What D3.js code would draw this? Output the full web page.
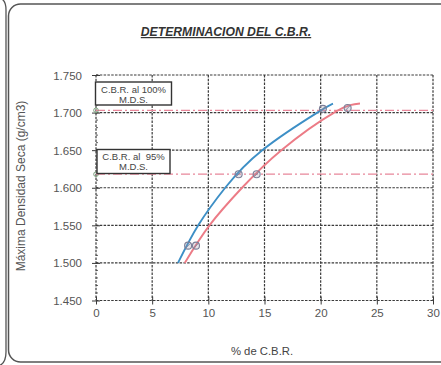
<!DOCTYPE html>
<html>
<head>
<meta charset="utf-8">
<script src="https://cdn.jsdelivr.net/npm/d3@7"></script>
<style>
  html, body { margin: 0; padding: 0; background: #fff; }
  svg { display: block; }
  text { font-family: Arial, "Liberation Sans", sans-serif; }
</style>
</head>
<body>
<svg id="chart" width="441" height="365"></svg>
<script>
// CBR curves: % CBR vs dry density (g/cm3)
const xTicks = [0, 5, 10, 15, 20, 25, 30];
const yTicks = [1.45, 1.50, 1.55, 1.60, 1.65, 1.70, 1.75];

// Fitted curve traces
const curveA = [[7.3, 1.500], [9.1, 1.550], [11.5, 1.600], [14.8, 1.650], [19.7, 1.700], [21.1, 1.712]];
const curveB = [[7.9, 1.500], [10.1, 1.550], [13.0, 1.600], [16.5, 1.650], [21.2, 1.700], [23.5, 1.712]];

// Read points on each curve
const pointsA = [[8.2, 1.523], [12.7, 1.618], [20.2, 1.705]];
const pointsB = [[8.9, 1.523], [14.3, 1.618], [22.4, 1.706]];

// Maximum dry density and 95% of it
const mds100 = 1.703;
const mds95 = 1.618;

const svg = d3.select("#chart");
const font = "Arial, 'Liberation Sans', sans-serif";

// Panel frames
svg.append("path")
  .attr("d", "M0,-2 Q6,0 6,10 L6,352 Q6,364 -2,366")
  .attr("fill", "none").attr("stroke", "#555").attr("stroke-width", 1.3);
svg.append("rect")
  .attr("x", 8.5).attr("y", 4).attr("width", 460).attr("height", 358)
  .attr("rx", 12).attr("ry", 12)
  .attr("fill", "none").attr("stroke", "#555").attr("stroke-width", 1.5);

const x = d3.scaleLinear().domain([0, 30]).range([96, 433]);
const y = d3.scaleLinear().domain([1.45, 1.75]).range([300.5, 75]);

const gridColor = "#3a3a3a";

// Grid lines
svg.append("g").selectAll("line").data(xTicks).join("line")
  .attr("x1", d => x(d)).attr("x2", d => x(d))
  .attr("y1", y(1.75)).attr("y2", y(1.45))
  .attr("stroke", gridColor).attr("stroke-width", 1.2)
  .attr("stroke-dasharray", "2.5,1.3");
svg.append("g").selectAll("line").data(yTicks).join("line")
  .attr("x1", x(0)).attr("x2", x(30))
  .attr("y1", d => y(d)).attr("y2", d => y(d))
  .attr("stroke", gridColor).attr("stroke-width", 1.2)
  .attr("stroke-dasharray", "2.5,1.3");

// Axes with crossing tick marks
const yAxis = d3.axisLeft(y).tickValues(yTicks).tickSizeInner(4).tickSizeOuter(0)
  .tickFormat(d3.format(".3f"));
const gy = svg.append("g").attr("transform", `translate(${x(0)},0)`).call(yAxis);
gy.select(".domain").remove();
gy.selectAll(".tick line").attr("x2", -4).attr("x1", 4).attr("stroke", gridColor);
gy.selectAll(".tick text").attr("x", -14).attr("dy", "0.35em")
  .attr("font-size", 11.5).attr("fill", "#555").attr("font-family", font);

// Minor ticks on the density axis
const minor = d3.range(1.45, 1.7501, 0.01);
svg.append("g").selectAll("line").data(minor).join("line")
  .attr("x1", x(0)).attr("x2", x(0) + 2)
  .attr("y1", d => y(d)).attr("y2", d => y(d))
  .attr("stroke", gridColor).attr("stroke-width", 0.8);

const xAxis = d3.axisBottom(x).tickValues(xTicks).tickSizeInner(4).tickSizeOuter(0);
const gx = svg.append("g").attr("transform", `translate(0,${y(1.45)})`).call(xAxis);
gx.select(".domain").remove();
gx.selectAll(".tick line").attr("y1", -4).attr("y2", 4).attr("stroke", gridColor);
gx.selectAll(".tick text").attr("y", 8).attr("dy", "0.71em")
  .attr("font-size", 11.5).attr("fill", "#555").attr("font-family", font);

// Reference lines at MDS and 95% MDS
const refColor = "#e8879a";
[mds100, mds95].forEach(v => {
  svg.append("line")
    .attr("x1", x(0)).attr("x2", x(30))
    .attr("y1", y(v)).attr("y2", y(v))
    .attr("stroke", refColor).attr("stroke-width", 1.2)
    .attr("stroke-dasharray", "9,3,2,3");
  svg.append("circle")
    .attr("cx", x(0)).attr("cy", y(v)).attr("r", 2.3)
    .attr("fill", "none").attr("stroke", "#7aa07a").attr("stroke-width", 1);
});

// Curves
const line = d3.line().x(d => x(d[0])).y(d => y(d[1])).curve(d3.curveNatural);
svg.append("path").datum(curveA).attr("d", line)
  .attr("fill", "none").attr("stroke", "#3d8fc6").attr("stroke-width", 1.9);
svg.append("path").datum(curveB).attr("d", line)
  .attr("fill", "none").attr("stroke", "#ec7b86").attr("stroke-width", 1.9);

// Point markers
function markers(pts) {
  const g = svg.append("g");
  pts.forEach(p => {
    g.append("circle").attr("cx", x(p[0])).attr("cy", y(p[1])).attr("r", 3.5)
      .attr("fill", "rgba(150,150,170,0.25)").attr("stroke", "#7d7f98").attr("stroke-width", 1.1);
    g.append("line")
      .attr("x1", x(p[0]) - 2.2).attr("y1", y(p[1]) + 2.2)
      .attr("x2", x(p[0]) + 2.2).attr("y2", y(p[1]) - 2.2)
      .attr("stroke", "#7d7f98").attr("stroke-width", 0.9);
  });
}
markers(pointsA);
markers(pointsB);

// Annotation boxes
function labelBox(x0, y0, w, h, lines) {
  const g = svg.append("g");
  g.append("rect").attr("x", x0).attr("y", y0).attr("width", w).attr("height", h)
    .attr("fill", "#fff").attr("stroke", "#333").attr("stroke-width", 1.4);
  lines.forEach((t, i) => {
    g.append("text").attr("x", x0 + w / 2).attr("y", y0 + 10.5 + i * 10)
      .attr("text-anchor", "middle").attr("font-size", 9.5).attr("fill", "#444")
      .attr("xml:space", "preserve").text(t);
  });
}
labelBox(95.5, 82, 76, 23, ["C.B.R. al 100%", "M.D.S."]);
labelBox(97, 149.5, 73, 24, ["C.B.R. al  95%", "M.D.S."]);

// Title
svg.append("text").attr("x", 226).attr("y", 36)
  .attr("text-anchor", "middle").attr("font-size", 12.2)
  .attr("font-weight", "bold").attr("font-style", "italic")
  .attr("text-decoration", "underline").attr("fill", "#333")
  .text("DETERMINACION DEL C.B.R.");

// Axis titles
svg.append("text").attr("x", 262).attr("y", 355)
  .attr("text-anchor", "middle").attr("font-size", 11.3).attr("fill", "#444")
  .text("% de C.B.R.");
svg.append("text")
  .attr("transform", "translate(25,186) rotate(-90)")
  .attr("text-anchor", "middle").attr("font-size", 12).attr("fill", "#555")
  .text("Máxima Densidad Seca (g/cm3)");
</script>
</body>
</html>
